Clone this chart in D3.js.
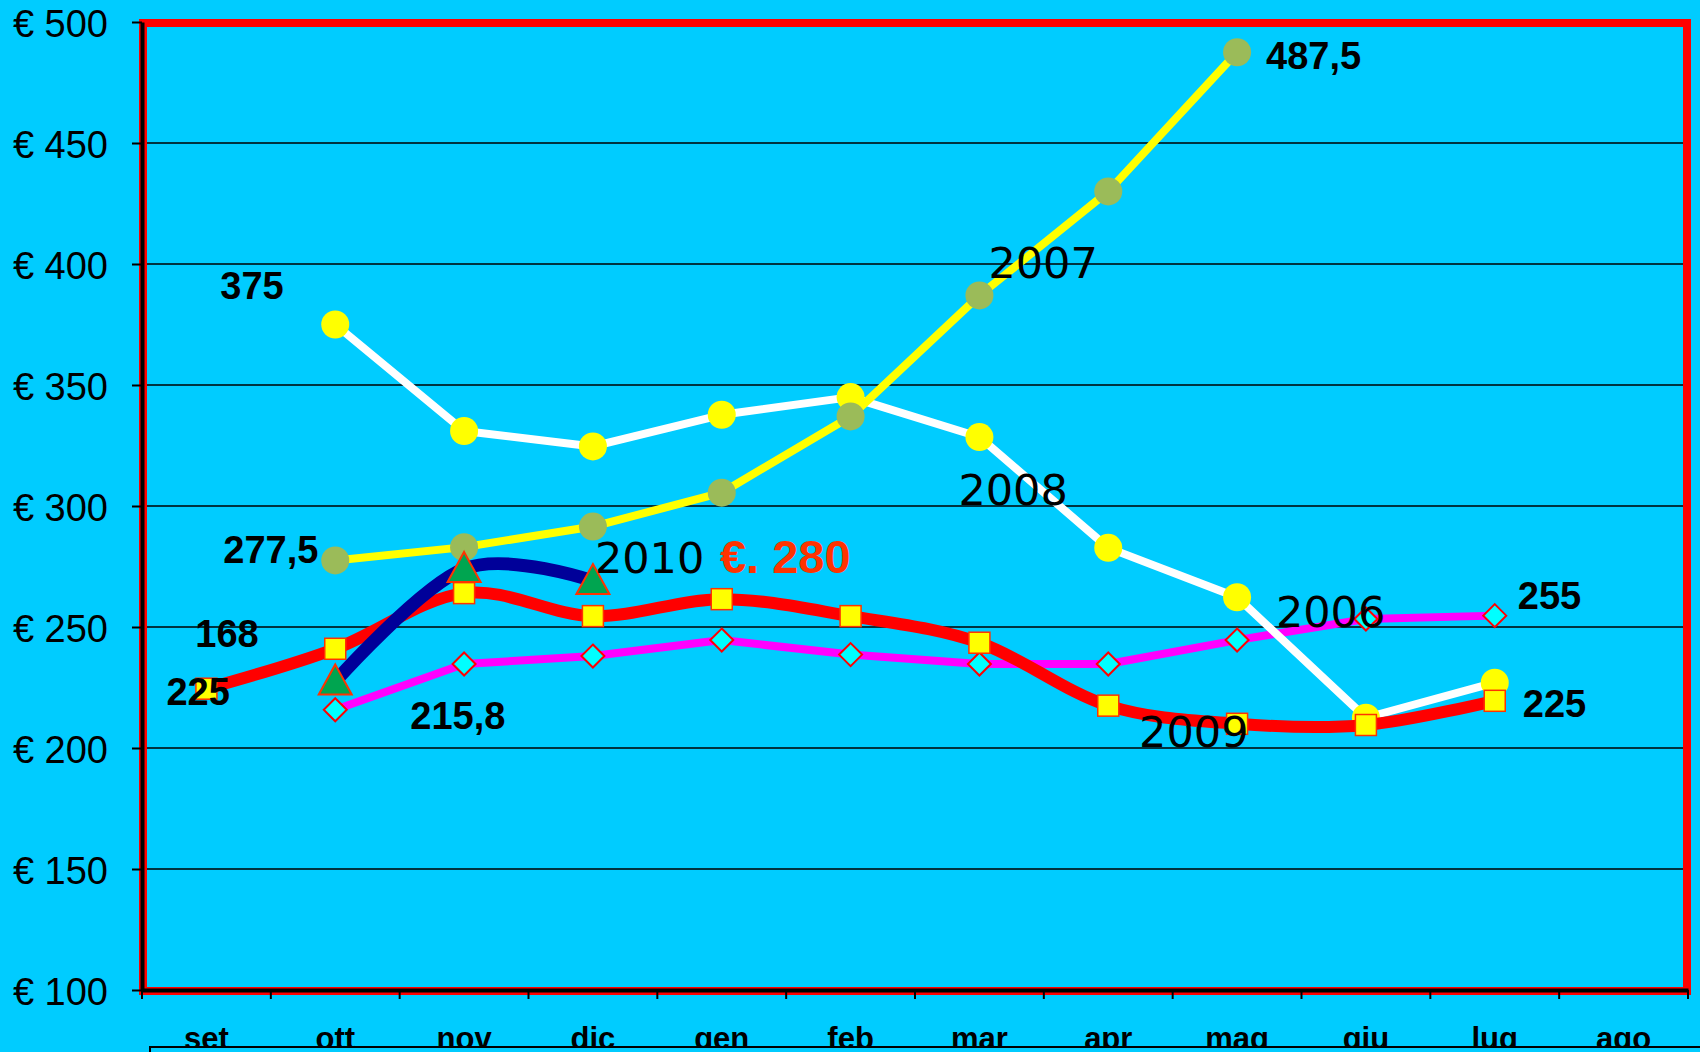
<!DOCTYPE html>
<html>
<head>
<meta charset="utf-8">
<style>
  body { margin: 0; background: #00ccff; }
  svg text { font-family: "Liberation Sans", Arial, sans-serif; }
</style>
</head>
<body>
<script src="https://cdn.jsdelivr.net/npm/d3@7/dist/d3.min.js"></script>
<script>
  // months of the season, set -> ago
  var months = ["set", "ott", "nov", "dic", "gen", "feb", "mar", "apr", "mag", "giu", "lug", "ago"];
  var yTicks = [100, 150, 200, 250, 300, 350, 400, 450, 500];

  // price per month, one array per year (null = no value)
  var s2006 = [null, 215.8, 234.7, 238, 244.6, 238.6, 234.7, 234.7, 244.6, 253.3, 254.7, null];
  var s2007 = [null, 277.5, 283, 291.5, 305.5, 337, 387, 430, 487.5, null, null, null];
  var s2008 = [null, 375, 331, 324.6, 337.7, 345, 328.5, 282.7, 262.3, 212.5, 227, null];
  var s2009 = [224.5, 241, 264, 254.5, 261.5, 254.5, 243.5, 217.5, 210, 209.5, 219.5, null];
  var s2010 = [null, 227.5, 274, 269, null, null, null, null, null, null, null, null];

  // value labels: text, year, month they belong to
  var valueLabels = [
    {text: "375",   year: "2008", month: "ott"},
    {text: "277,5", year: "2007", month: "ott"},
    {text: "168",   year: "2010", month: "ott"},
    {text: "225",   year: "2009", month: "set"},
    {text: "215,8", year: "2006", month: "ott"},
    {text: "487,5", year: "2007", month: "mag"},
    {text: "255",   year: "2006", month: "lug"},
    {text: "225",   year: "2009", month: "lug"}
  ];
  // year names written on the lines
  var yearLabels = [
    {text: "2007", year: "2007", month: "mar"},
    {text: "2008", year: "2008", month: "mar"},
    {text: "2010", year: "2010", month: "dic"},
    {text: "2006", year: "2006", month: "giu"},
    {text: "2009", year: "2009", month: "mag"}
  ];
  var note2010 = "€. 280";

  var series = {"2006": s2006, "2007": s2007, "2008": s2008, "2009": s2009, "2010": s2010};

  var W = 1700, H = 1052;
  var bg = "#00ccff";

  var x = d3.scaleBand().domain(months).range([142, 1688]);
  var y = d3.scaleLinear().domain([100, 500]).range([990, 22]);
  function cx(m) { return x(m) + x.bandwidth() / 2; }

  var svg = d3.select("body").append("svg")
    .attr("width", W)
    .attr("height", H);

  svg.append("rect").attr("width", W).attr("height", H).attr("fill", bg);

  // grid lines
  svg.append("g").selectAll("line")
    .data(yTicks.filter(function(d) { return d > 100 && d < 500; }))
    .enter().append("line")
    .attr("x1", 142).attr("x2", 1684)
    .attr("y1", function(d) { return y(d); })
    .attr("y2", function(d) { return y(d); })
    .attr("stroke", "#000").attr("stroke-width", 1.6);

  // red frame of plot area
  svg.append("rect")
    .attr("x", 143).attr("y", 23)
    .attr("width", 1544).attr("height", 968)
    .attr("fill", "none")
    .attr("stroke", "#ff0000")
    .attr("stroke-width", 8);

  // Y axis
  var yAxis = svg.append("g")
    .attr("transform", "translate(142,0)")
    .call(d3.axisLeft(y).tickValues(yTicks).tickSize(10).tickSizeOuter(0).tickPadding(24)
      .tickFormat(function(d) { return "€ " + d; }));
  yAxis.select(".domain").attr("stroke", "#000").attr("stroke-width", 4);
  yAxis.selectAll(".tick line").attr("stroke", "#000").attr("stroke-width", 2);
  yAxis.selectAll("text")
    .attr("fill", "#000")
    .attr("dy", "0.39em")
    .style("font-size", "38px");

  // X axis
  var xAxis = svg.append("g")
    .attr("transform", "translate(0,990)")
    .call(d3.axisBottom(x).tickSize(0).tickSizeOuter(0).tickPadding(0));
  xAxis.select(".domain").attr("stroke", "#000").attr("stroke-width", 4);
  xAxis.selectAll("text")
    .attr("y", 59).attr("dy", 0)
    .attr("fill", "#000")
    .style("font-size", "31px")
    .style("font-weight", "bold");

  // ticks between months
  svg.append("g").selectAll("line")
    .data(months.concat(["end"]))
    .enter().append("line")
    .attr("x1", function(d) { return d == "end" ? x.range()[1] : x(d); })
    .attr("x2", function(d) { return d == "end" ? x.range()[1] : x(d); })
    .attr("y1", 990).attr("y2", 999)
    .attr("stroke", "#000").attr("stroke-width", 2);

  // box under the month names (cuts them off)
  svg.append("rect")
    .attr("x", 150).attr("y", 1047)
    .attr("width", 1600).attr("height", 30)
    .attr("fill", bg)
    .attr("stroke", "#000").attr("stroke-width", 2);

  function pts(arr) {
    return arr.map(function(v, i) { return {m: months[i], v: v}; })
              .filter(function(d) { return d.v != null; });
  }

  var straight = d3.line()
    .x(function(d) { return cx(d.m); })
    .y(function(d) { return y(d.v); });
  var smooth = d3.line()
    .curve(d3.curveCardinal.tension(0))
    .x(function(d) { return cx(d.m); })
    .y(function(d) { return y(d.v); });

  function drawLine(arr, gen, color, width) {
    svg.append("path")
      .datum(pts(arr))
      .attr("d", gen)
      .attr("fill", "none")
      .attr("stroke", color)
      .attr("stroke-width", width)
      .attr("stroke-linejoin", "round");
  }

  // 2006 magenta, cyan diamonds
  drawLine(s2006, straight, "#ff00ff", 8);
  svg.append("g").selectAll("path")
    .data(pts(s2006)).enter().append("path")
    .attr("transform", function(d) { return "translate(" + cx(d.m) + "," + y(d.v) + ")"; })
    .attr("d", "M0,-11.5L11.5,0L0,11.5L-11.5,0Z")
    .attr("fill", "#00ffff")
    .attr("stroke", "#ff0000").attr("stroke-width", 2);

  // 2008 white, yellow dots
  drawLine(s2008, straight, "#ffffff", 8);
  svg.append("g").selectAll("circle")
    .data(pts(s2008)).enter().append("circle")
    .attr("cx", function(d) { return cx(d.m); })
    .attr("cy", function(d) { return y(d.v); })
    .attr("r", 14)
    .attr("fill", "#ffff00");

  // 2007 yellow, olive dots
  drawLine(s2007, straight, "#ffff00", 8);
  svg.append("g").selectAll("circle")
    .data(pts(s2007)).enter().append("circle")
    .attr("cx", function(d) { return cx(d.m); })
    .attr("cy", function(d) { return y(d.v); })
    .attr("r", 14)
    .attr("fill", "#9bbb59");

  // 2009 red smooth, yellow squares
  drawLine(s2009, smooth, "#ff0000", 12);
  svg.append("g").selectAll("rect")
    .data(pts(s2009)).enter().append("rect")
    .attr("x", function(d) { return cx(d.m) - 10.5; })
    .attr("y", function(d) { return y(d.v) - 10.5; })
    .attr("width", 21).attr("height", 21)
    .attr("fill", "#ffff00")
    .attr("stroke", "#ff3300").attr("stroke-width", 1.5);

  // 2010 navy smooth, green triangles
  drawLine(s2010, smooth, "#000099", 13);
  svg.append("g").selectAll("path")
    .data(pts(s2010)).enter().append("path")
    .attr("transform", function(d) { return "translate(" + cx(d.m) + "," + y(d.v) + ")"; })
    .attr("d", "M0,-17L16.5,13L-16.5,13Z")
    .attr("fill", "#00a550")
    .attr("stroke", "#ff3300").attr("stroke-width", 2);

  // label offsets from their point (left edge, baseline)
  var valueOffsets = [[-115, -26], [-112, 3], [-140, -34], [-40, 16], [75, 19], [29, 17], [23, -7], [28, 16]];
  var yearOffsets = [[9, -17], [-21, 68], [2, -8], [-90, 8], [-98, 23]];

  function anchor(l) {
    var v = series[l.year][months.indexOf(l.month)];
    return [cx(l.month), y(v)];
  }

  svg.append("g").selectAll("text")
    .data(yearLabels).enter().append("text")
    .attr("x", function(d, i) { return anchor(d)[0] + yearOffsets[i][0]; })
    .attr("y", function(d, i) { return anchor(d)[1] + yearOffsets[i][1]; })
    .style("font-family", "'DejaVu Sans', sans-serif")
    .style("font-size", "43px")
    .attr("fill", "#000")
    .text(function(d) { return d.text; });

  var a10 = anchor(yearLabels[2]);
  svg.append("text")
    .attr("x", a10[0] + 127)
    .attr("y", a10[1] - 8)
    .style("font-size", "47px")
    .style("font-weight", "bold")
    .attr("fill", "#ff3300")
    .text(note2010);

  svg.append("g").selectAll("text")
    .data(valueLabels).enter().append("text")
    .attr("x", function(d, i) { return anchor(d)[0] + valueOffsets[i][0]; })
    .attr("y", function(d, i) { return anchor(d)[1] + valueOffsets[i][1]; })
    .style("font-size", "38px")
    .style("font-weight", "bold")
    .attr("fill", "#000")
    .text(function(d) { return d.text; });
</script>
</body>
</html>
